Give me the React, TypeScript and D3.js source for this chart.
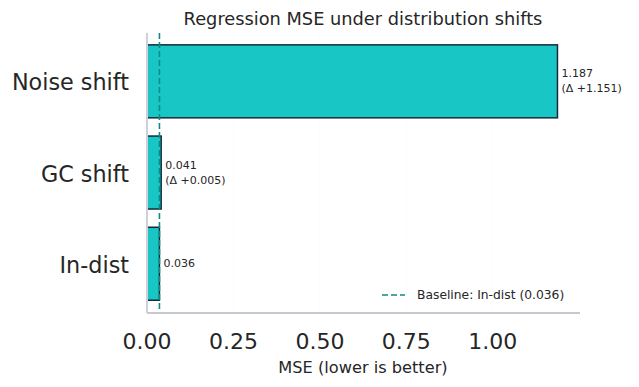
import React from "react";
import * as d3 from "d3";

const categories = ["In-dist", "GC shift", "Noise shift"];
const mseValues = [0.036, 0.041, 1.187];
const deltaLabels = ["", "(Δ +0.005)", "(Δ +1.151)"];
const valueLabels = ["0.036", "0.041", "1.187"];
const xTicks = [0, 0.25, 0.5, 0.75, 1.0];
const baseline = 0.036;

export default function App() {
  const W = 639, H = 387;
  const left = 147, right = 578, top = 33, bottom = 313;
  const x = d3.scaleLinear().domain([0, 1.187 * 1.05]).range([left, right]);
  const y = d3.scaleLinear().domain([-0.54, 2.53]).range([bottom, top]);
  const font = "DejaVu Sans, sans-serif";
  const barH = y(0) - y(0.8);
  const txt = "#262626";
  return (
    <svg width={W} height={H} style={{ position: "absolute", left: 0, top: 0 }} fontFamily={font}>
      <rect width={W} height={H} fill="#fff" />
      {xTicks.map((t) => (
        <line key={t} x1={x(t)} x2={x(t)} y1={top} y2={bottom} stroke="#e8e8e8" strokeWidth={0.8} strokeDasharray="1,3" opacity={0.6} />
      ))}
      {categories.map((c, i) => (
        <rect key={c} x={x(0)} y={y(i) - barH / 2} width={x(mseValues[i]) - x(0)} height={barH}
          fill="#18c6c5" stroke="#17283a" strokeWidth={1.5} />
      ))}
      <line x1={x(baseline)} x2={x(baseline)} y1={top} y2={bottom} stroke="#0e8a80" strokeWidth={1.6} strokeDasharray="6,3" />
      <line x1={left} x2={left} y1={top} y2={bottom} stroke="#d0d0d8" strokeWidth={2} />
      <line x1={left} x2={right + 2} y1={bottom} y2={bottom} stroke="#c8c8d0" strokeWidth={2} />
      {categories.map((c, i) => (
        <text key={c} x={129} y={y(i) + 1} textAnchor="end" dominantBaseline="central" fontSize={22.3} fill={txt}>{c}</text>
      ))}
      {xTicks.map((t) => (
        <text key={t} x={x(t)} y={341} textAnchor="middle" dominantBaseline="central" fontSize={22} fill={txt}>{t.toFixed(2)}</text>
      ))}
      {categories.map((c, i) => {
        const tx = x(mseValues[i]) + 4;
        if (deltaLabels[i]) {
          return (
            <g key={c}>
              <text x={tx} y={y(i) - 7.5} dominantBaseline="central" fontSize={11} fill={txt}>{valueLabels[i]}</text>
              <text x={tx} y={y(i) + 7.5} dominantBaseline="central" fontSize={11} fill={txt}>{deltaLabels[i]}</text>
            </g>
          );
        }
        return <text key={c} x={tx} y={y(i)} dominantBaseline="central" fontSize={11} fill={txt}>{valueLabels[i]}</text>;
      })}
      <text x={363} y={18} textAnchor="middle" dominantBaseline="central" fontSize={17.8} fill={txt}>Regression MSE under distribution shifts</text>
      <text x={363} y={367} textAnchor="middle" dominantBaseline="central" fontSize={16.2} fill={txt}>MSE (lower is better)</text>
      <line x1={382} x2={405} y1={295} y2={295} stroke="#0e8a80" strokeWidth={1.6} strokeDasharray="6,3" />
      <text x={417} y={295} dominantBaseline="central" fontSize={12.3} fill={txt}>Baseline: In-dist (0.036)</text>
    </svg>
  );
}
